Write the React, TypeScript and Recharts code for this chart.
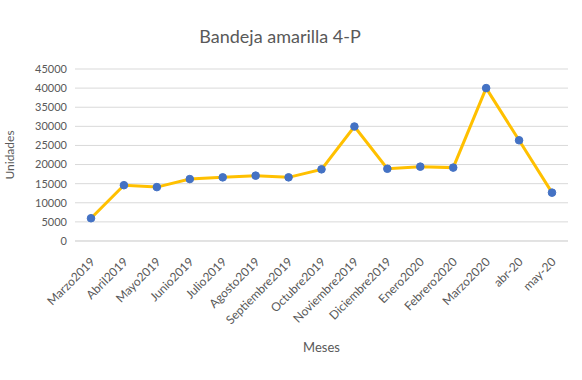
import { LineChart, Line, XAxis, YAxis, CartesianGrid } from "recharts";

const months = [
  "Marzo2019",
  "Abril2019",
  "Mayo2019",
  "Junio2019",
  "Julio2019",
  "Agosto2019",
  "Septiembre2019",
  "Octubre2019",
  "Noviembre2019",
  "Diciembre2019",
  "Enero2020",
  "Febrero2020",
  "Marzo2020",
  "abr-20",
  "may-20",
];

const units = [
  5950, 14600, 14100, 16200, 16650, 17100, 16650, 18750, 29950, 18900, 19450,
  19200, 40000, 26350, 12650,
];

const yTicks = [0, 5000, 10000, 15000, 20000, 25000, 30000, 35000, 40000, 45000];

const data = months.map((m, i) => ({ mes: m, unidades: units[i] }));

const FONT = "Lato, 'Open Sans', sans-serif";
const TEXT = "#595959";

function MonthTick(props: any) {
  const { x, y, payload } = props;
  return (
    <g transform={`translate(${x - 1},${y + 8})`}>
      <text
        transform="rotate(-45)"
        textAnchor="end"
        dy={8}
        fontSize={12}
        fontFamily={FONT}
        fill={TEXT}
      >
        {payload.value}
      </text>
    </g>
  );
}

export default function App() {
  return (
    <div
      style={{
        position: "absolute",
        left: 0,
        top: 0,
        width: 582,
        height: 380,
        background: "#fff",
        fontFamily: FONT,
      }}
    >
      <div
        style={{
          position: "absolute",
          left: 0,
          top: 24,
          width: 560,
          textAlign: "center",
          fontSize: 18,
          color: TEXT,
          lineHeight: "24px",
        }}
      >
        Bandeja amarilla 4-P
      </div>
      <LineChart
        width={582}
        height={380}
        data={data}
        margin={{ top: 69, right: 14, bottom: 14, left: 0 }}
      >
        <CartesianGrid vertical={false} stroke="#d9d9d9" />
        <XAxis
          dataKey="mes"
          height={125}
          interval={0}
          padding={{ left: 16, right: 16 }}
          axisLine={{ stroke: "#d9d9d9" }}
          tickLine={false}
          tick={<MonthTick />}
          label={{
            value: "Meses",
            position: "insideBottom",
            offset: 14,
            fill: TEXT,
            fontSize: 13,
            fontFamily: FONT,
          }}
        />
        <YAxis
          width={75}
          domain={[0, 45000]}
          ticks={yTicks}
          interval={0}
          axisLine={false}
          tickLine={false}
          tick={{ fontSize: 11, fill: TEXT, fontFamily: FONT }}
          label={{
            value: "Unidades",
            angle: -90,
            position: "insideLeft",
            offset: 10,
            fill: TEXT,
            fontSize: 12,
            fontFamily: FONT,
            style: { textAnchor: "middle" },
          }}
        />
        <Line
          type="linear"
          dataKey="unidades"
          stroke="#FFC000"
          strokeWidth={3}
          dot={{ r: 3.8, fill: "#4472C4", stroke: "#4472C4", strokeWidth: 1 }}
          isAnimationActive={false}
        />
      </LineChart>
    </div>
  );
}
